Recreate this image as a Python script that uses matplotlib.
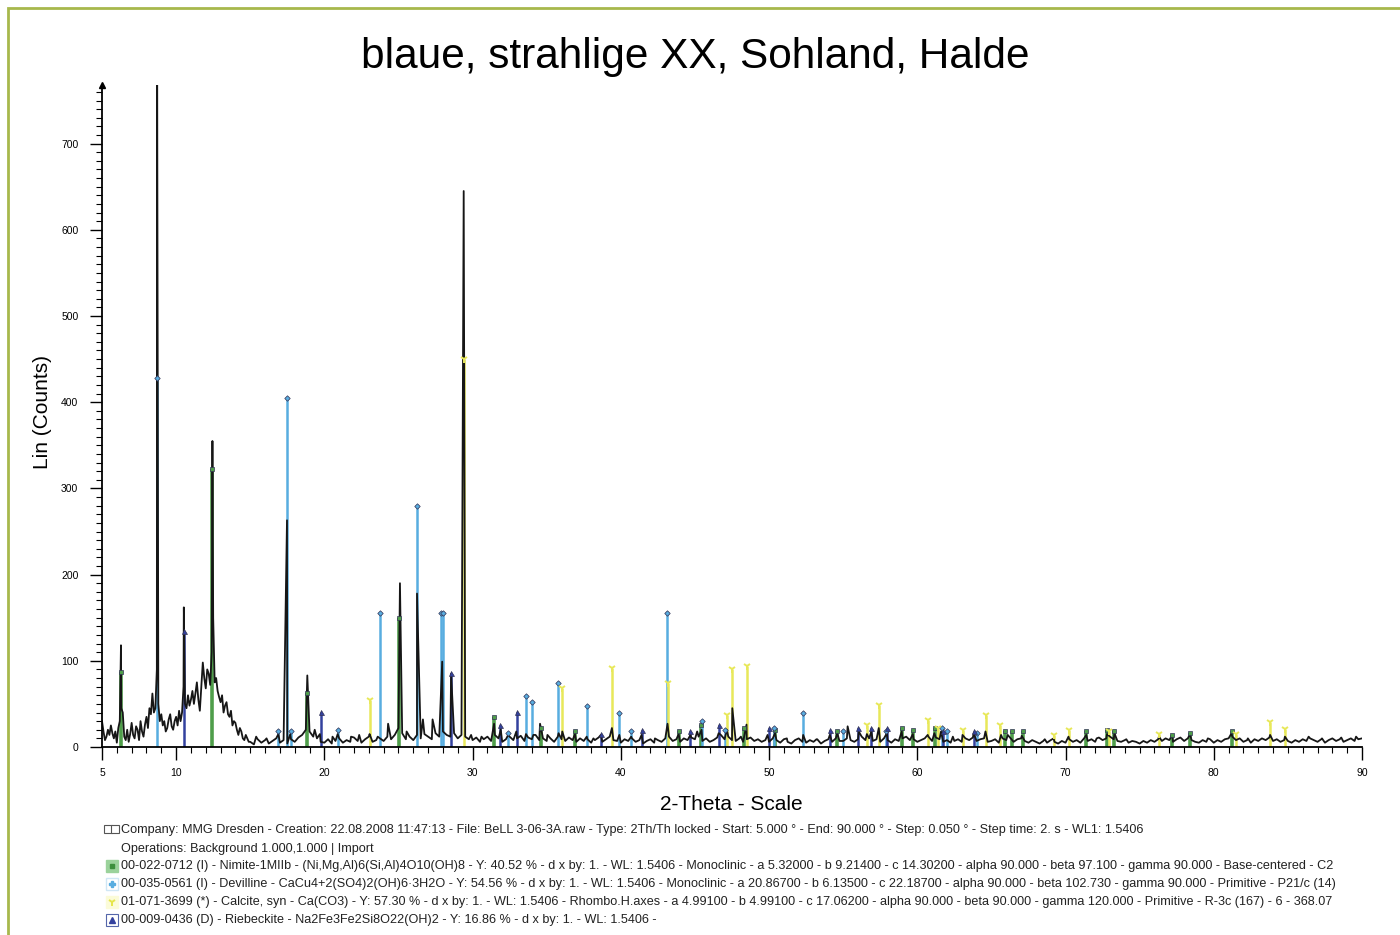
import numpy as np
import matplotlib.pyplot as plt
from matplotlib.lines import Line2D
from matplotlib.patches import Rectangle
from matplotlib.ticker import FixedLocator, MultipleLocator

plt.rcParams['font.family'] = ['Liberation Sans', 'DejaVu Sans']

title = 'blaue, strahlige XX, Sohland, Halde'

# scan background: 5.0-14.9 every 0.1 deg, 15.0-90.0 every 0.25 deg
bg_low_start, bg_low_step = 5.0, 0.1
bg_low = [30, 18, 8, 12, 20, 14, 25, 16, 10, 18,
          5, 22, 30, 45, 40, 12, 8, 20, 6, 15,
          28, 14, 10, 24, 20, 8, 30, 18, 12, 26,
          35, 22, 45, 38, 62, 40, 45, 90, 50, 30,
          38, 25, 30, 18, 22, 32, 38, 24, 20, 30,
          35, 25, 42, 30, 40, 70, 50, 45, 60, 48,
          55, 65, 50, 62, 75, 55, 42, 70, 98, 80,
          68, 90, 85, 72, 110, 150, 75, 80, 65, 58,
          52, 60, 40, 48, 52, 38, 35, 42, 25, 30,
          28, 20, 14, 22, 18, 10, 8, 14, 10, 6]
bg_high_start, bg_high_step = 15.0, 0.25
bg_high = [6, 3, 9, 5, 8, 4, 7, 10, 5, 8, 4, 9, 6, 11, 14, 20, 18, 12, 10, 6,
           5, 9, 4, 7, 10, 5, 8, 6, 11, 7, 5, 9, 12, 6, 8, 10, 7, 12, 9, 14,
           22, 16, 9, 12, 8, 14, 10, 15, 12, 9, 16, 12, 18, 14, 12, 16, 10, 14, 12, 9,
           8, 11, 6, 9, 12, 7, 14, 10, 6, 9, 12, 8, 10, 13, 7, 11, 9, 14, 8, 10,
           7, 10, 6, 12, 9, 7, 11, 8, 6, 10, 7, 9, 5, 8, 11, 6, 9, 12, 8, 7,
           5, 9, 7, 10, 6, 8, 4, 7, 9, 5, 8, 6, 10, 12, 7, 9, 6, 10, 8, 11,
           9, 12, 7, 10, 6, 8, 11, 14, 9, 12, 8, 7, 10, 6, 9, 11, 7, 9, 6, 8,
           6, 10, 8, 5, 9, 6, 4, 8, 10, 6, 5, 8, 6, 9, 4, 7, 9, 6, 10, 7,
           7, 10, 8, 6, 9, 12, 8, 10, 7, 9, 6, 10, 8, 5, 9, 7, 10, 12, 8, 9,
           6, 8, 10, 12, 7, 11, 9, 6, 8, 5, 7, 9, 6, 10, 8, 11, 7, 9, 10, 6,
           7, 9, 5, 10, 8, 11, 6, 9, 10, 7, 5, 8, 6, 4, 7, 5, 8, 6, 4, 7,
           5, 9, 6, 8, 5, 10, 7, 9, 6, 11, 8, 10, 12, 9, 7, 6, 8, 5, 7, 6,
           4, 7, 5, 8, 6, 9, 7, 10, 8, 6, 9, 11, 7, 10, 8, 6, 5, 8, 6, 9,
           5, 8, 6, 9, 10, 12, 8, 10, 6, 8, 5, 9, 7, 10, 8, 11, 7, 9, 6, 8,
           7, 5, 8, 6, 9, 7, 10, 8, 6, 9, 5, 8, 10, 7, 9, 6, 8, 10, 7, 9,
           10]

# peak maxima of the scan
peak_2theta = [6.28, 8.72, 10.52, 12.45, 15.4, 16.1, 16.9, 17.48, 17.7, 18.85,
               19.35, 19.7, 20.55, 20.9, 21.8, 22.35, 23.05, 23.6, 24.3, 25.1,
               25.55, 26.25, 26.65, 27.3, 27.95, 28.55, 29.4, 29.9, 30.6, 31.45,
               31.9, 32.4, 32.95, 33.6, 34.1, 34.55, 35.05, 35.8, 36.05, 36.9,
               37.7, 38.15, 38.65, 39.4, 39.9, 40.7, 41.4, 42.3, 43.15, 43.9,
               44.7, 45.15, 45.45, 46.6, 47.15, 47.52, 48.1, 48.48, 49.9, 50.4,
               51.2, 52.3, 53.2, 54.1, 54.6, 55.3, 56.05, 56.6, 56.9, 57.4,
               57.95, 58.95, 59.7, 60.7, 61.15, 61.6, 62.4, 63.05, 63.8, 64.6,
               65.65, 66.1, 67.05, 68.6, 69.2, 70.2, 71.4, 72.1, 72.8, 73.3,
               74.1, 76.3, 77.2, 78.4, 79.6, 81.2, 82.3, 83.8, 84.8, 86.4,
               87.3, 88.6, 89.6]
peak_counts = [118, 790, 162, 355, 12, 10, 15, 263, 15, 83,
               20, 15, 12, 15, 12, 14, 15, 12, 27, 190,
               18, 178, 32, 32, 99, 85, 645, 14, 12, 27,
               20, 14, 18, 15, 14, 27, 14, 16, 18, 15,
               12, 10, 14, 22, 14, 12, 14, 10, 27, 15,
               14, 18, 20, 16, 20, 45, 12, 26, 14, 16,
               10, 14, 9, 14, 16, 24, 18, 15, 18, 22,
               16, 18, 15, 14, 16, 18, 12, 14, 16, 18,
               14, 14, 13, 9, 10, 12, 14, 10, 15, 16,
               9, 12, 14, 15, 10, 16, 10, 14, 12, 12,
               10, 11, 12]

# reference patterns (stick positions / heights)
nimite_2theta = [6.25, 12.45, 18.8, 25.05, 31.45, 34.6, 36.9, 43.95, 45.4, 48.3, 50.4, 54.6,
                 59.0, 59.7, 61.2, 65.9, 66.4, 67.1, 71.4, 72.8, 73.3, 77.2, 78.4, 81.2]
nimite_counts = [87, 322, 63, 150, 35, 22, 18, 18, 25, 22, 20, 18,
                 22, 20, 22, 18, 18, 18, 18, 20, 18, 14, 16, 18]
devilline_2theta = [8.72, 16.9, 17.5, 17.75, 20.9, 23.75, 26.25, 27.85, 28.0, 32.4, 33.6, 34.0, 35.75,
                    37.7, 39.9, 40.7, 43.1, 45.45, 47.0, 50.3, 52.3, 55.0, 57.9, 61.7, 62.0, 64.0]
devilline_counts = [428, 18, 405, 18, 20, 156, 280, 156, 156, 16, 59, 52, 74,
                    47, 39, 18, 156, 30, 20, 22, 39, 18, 18, 22, 18, 16]
calcite_2theta = [23.05, 29.4, 36.0, 39.4, 43.15, 47.15, 47.5, 48.5, 56.6, 57.4, 60.7,
                  61.4, 63.05, 64.65, 65.6, 69.2, 70.25, 72.9, 76.3, 81.5, 83.8, 84.8]
calcite_counts = [55, 450, 68, 92, 74, 37, 90, 94, 26, 49, 31,
                  22, 20, 37, 25, 14, 20, 18, 15, 15, 29, 21]
riebeckite_2theta = [10.5, 19.75, 28.55, 31.85, 32.98, 38.65, 41.4, 44.7,
                     46.6, 50.0, 54.1, 56.0, 56.9, 57.95, 61.75, 63.8]
riebeckite_counts = [135, 41, 86, 25, 41, 15, 20, 18,
                     25, 22, 20, 22, 22, 22, 18, 18]

legend_lines = [
    'Company: MMG Dresden - Creation: 22.08.2008 11:47:13 - File: BeLL 3-06-3A.raw - Type: 2Th/Th locked - '
    'Start: 5.000 \u00b0 - End: 90.000 \u00b0 - Step: 0.050 \u00b0 - Step time: 2. s - WL1: 1.5406',
    'Operations: Background 1.000,1.000 | Import',
    '00-022-0712 (I) - Nimite-1MIIb - (Ni,Mg,Al)6(Si,Al)4O10(OH)8 - Y: 40.52 % - d x by: 1. - WL: 1.5406 - '
    'Monoclinic - a 5.32000 - b 9.21400 - c 14.30200 - alpha 90.000 - beta 97.100 - gamma 90.000 - Base-centered - C2',
    '00-035-0561 (I) - Devilline - CaCu4+2(SO4)2(OH)6\u00b73H2O - Y: 54.56 % - d x by: 1. - WL: 1.5406 - '
    'Monoclinic - a 20.86700 - b 6.13500 - c 22.18700 - alpha 90.000 - beta 102.730 - gamma 90.000 - Primitive - P21/c (14)',
    '01-071-3699 (*) - Calcite, syn - Ca(CO3) - Y: 57.30 % - d x by: 1. - WL: 1.5406 - Rhombo.H.axes - '
    'a 4.99100 - b 4.99100 - c 17.06200 - alpha 90.000 - beta 90.000 - gamma 120.000 - Primitive - R-3c (167) - 6 - 368.07',
    '00-009-0436 (D) - Riebeckite - Na2Fe3Fe2Si8O22(OH)2 - Y: 16.86 % - d x by: 1. - WL: 1.5406 -',
]

# phase styles: color, marker, marker size, stick width
phases = [
    (nimite_2theta, nimite_counts, '#4f9e4a', 's', 3.4, 2.6),
    (devilline_2theta, devilline_counts, '#58ade0', 'D', 2.8, 1.8),
    (calcite_2theta, calcite_counts, '#e8e85a', '1', 5.5, 1.8),
    (riebeckite_2theta, riebeckite_counts, '#33419e', '^', 3.6, 1.8),
]

# assemble scan: background samples plus peak maxima, ordered by angle
bg_x = np.concatenate([bg_low_start + bg_low_step * np.arange(len(bg_low)),
                       bg_high_start + bg_high_step * np.arange(len(bg_high))])
bg_y = np.concatenate([bg_low, bg_high])
scan_x = np.concatenate([bg_x, peak_2theta])
scan_y = np.concatenate([bg_y, peak_counts])
order = np.argsort(scan_x, kind='stable')
scan_x, scan_y = scan_x[order], scan_y[order]

W, H = 1400, 935
fig = plt.figure(figsize=(W / 100, H / 100), dpi=100)
ax = fig.add_axes([102 / W, 1 - 747 / H, 1260 / W, (747 - 85) / H])

for xs, ys, col, mk, ms, lw in phases:
    ax.vlines(xs, 0, ys, colors=col, lw=lw, zorder=1)
ax.plot(scan_x, scan_y, color='#161616', lw=1.3, zorder=2)
for xs, ys, col, mk, ms, lw in phases:
    ax.plot(xs, ys, ls='none', marker=mk, ms=ms, color=col,
            mec=col if mk == '1' else '#333355', mew=0.5 if mk != '1' else 1.4, zorder=3)

ax.set_xlim(5, 90)
ax.set_ylim(0, 768)
for s in ('top', 'right'):
    ax.spines[s].set_visible(False)
for s in ('left', 'bottom'):
    ax.spines[s].set_linewidth(1.3)
ax.xaxis.set_major_locator(FixedLocator([5, 10, 20, 30, 40, 50, 60, 70, 80, 90]))
ax.xaxis.set_minor_locator(MultipleLocator(1))
ax.yaxis.set_major_locator(MultipleLocator(100))
ax.yaxis.set_minor_locator(MultipleLocator(10))
ax.tick_params(axis='x', which='major', direction='out', length=9, width=1, pad=6, labelsize=7.5)
ax.tick_params(axis='x', which='minor', direction='out', length=4, width=0.8)
ax.tick_params(axis='y', which='major', direction='out', length=9, width=1, pad=8, labelsize=7.5)
ax.tick_params(axis='y', which='minor', direction='out', length=4.5, width=0.8)
ax.plot([5], [768], marker='^', ms=5, color='black', clip_on=False, zorder=4)

fig.text(695 / W, 1 - 68 / H, title, ha='center', va='baseline', fontsize=30.5)
fig.text(42 / W, 1 - 412 / H, 'Lin (Counts)', rotation=90, ha='center', va='center', fontsize=15)
fig.text(731 / W, 1 - 804 / H, '2-Theta - Scale', ha='center', va='center', fontsize=15)

# legend block under the chart
line_y = [830, 849, 866, 884, 902, 920]
for txt, yy in zip(legend_lines, line_y):
    fig.text(121 / W, 1 - yy / H, txt, ha='left', va='center', fontsize=9.1, color='#222222')

def fig_marker(x, y, **kw):
    fig.add_artist(Line2D([x / W], [1 - y / H], transform=fig.transFigure, ls='none', **kw))

fig_marker(108, 829, marker='s', ms=6, mfc='white', mec='#555555', mew=0.8)
fig_marker(115, 829, marker='s', ms=6, mfc='white', mec='#555555', mew=0.8)
fig_marker(112, 866, marker='s', ms=8, mfc='#9bd29b', mec='#9bd29b')
fig_marker(112, 866, marker='s', ms=3.5, mfc='#3d8f3d', mec='#3d8f3d')
fig_marker(112, 884, marker='s', ms=8, mfc='white', mec='#cfe6f5')
fig_marker(112, 884, marker='P', ms=4.5, mfc='#58ade0', mec='#58ade0')
fig_marker(112, 902, marker='s', ms=8, mfc='#fbfbd8', mec='#fbfbd8')
fig_marker(112, 902, marker='1', ms=6, color='#e6e64a', mew=1.4)
fig_marker(112, 920, marker='s', ms=9, mfc='white', mec='#5566aa', mew=0.8)
fig_marker(112, 920, marker='^', ms=5, mfc='#33419e', mec='#33419e')

# page frame
fig.add_artist(Rectangle((8 / W, -0.05), 1.2, 1.05 - 8 / H, transform=fig.transFigure,
                         fill=False, edgecolor='#a7b84c', lw=2))

fig.savefig('out.png', dpi=100)
